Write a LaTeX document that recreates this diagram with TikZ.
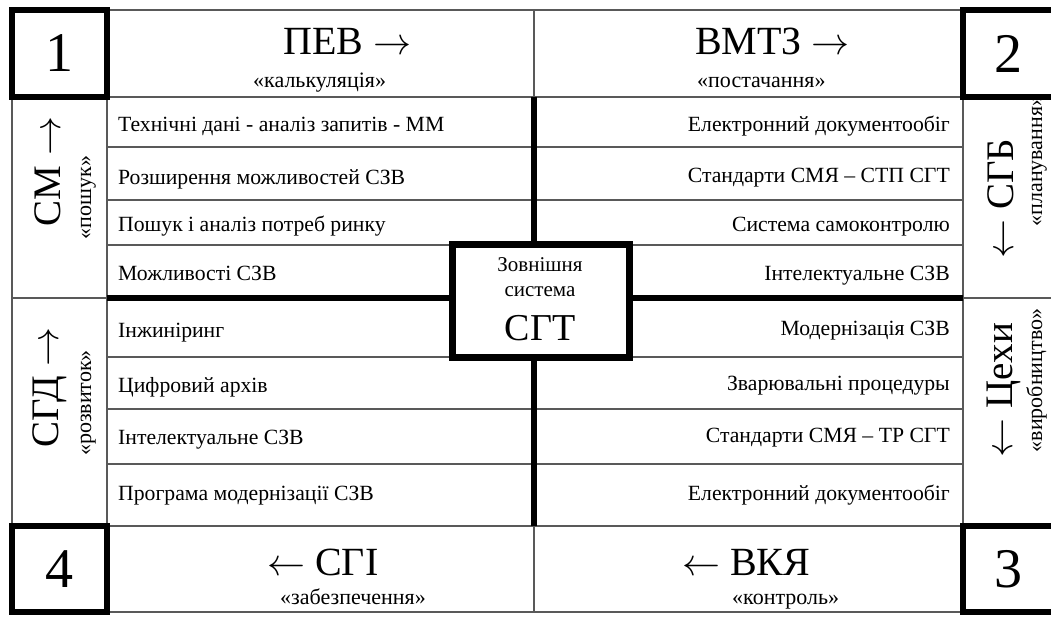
\documentclass[tikz,border=0pt]{standalone}
\usepackage{graphicx}
\usepackage{fontspec}
\setmainfont{Liberation Serif}
\newcommand{\ra}[1][3.8]{{\fontsize{10}{12}\selectfont\scalebox{#1}{$\rightarrow$}}}
\newcommand{\la}[1][3.8]{{\fontsize{10}{12}\selectfont\scalebox{#1}{$\leftarrow$}}}
\begin{document}
\begin{tikzpicture}[x=1pt,y=-1pt,
  thinl/.style={draw=black!65,line width=1.6pt},
  thickl/.style={draw=black,line width=6pt},
  numbox/.style={draw=black,line width=6pt,fill=white,inner sep=0pt,font=\fontsize{56}{60}\selectfont},
  centerbox/.style={draw=black,line width=7pt,fill=white,inner sep=0pt},
  item/.style={font=\fontsize{21.7}{24}\selectfont,inner sep=0pt},
  head/.style={font=\fontsize{40}{42}\selectfont,inner sep=0pt,anchor=base west},
  rhead/.style={font=\fontsize{39}{42}\selectfont,inner sep=0pt,anchor=base,rotate=90},
  subt/.style={font=\fontsize{22}{24}\selectfont,inner sep=0pt,anchor=base west},
  rsubt/.style={font=\fontsize{22}{24}\selectfont,inner sep=0pt,anchor=base,rotate=90},
  ctext/.style={font=\fontsize{21}{23}\selectfont,inner sep=0pt,anchor=base},
]
\useasboundingbox (0,0) rectangle (1051,617);
\begin{scope}
\clip (0,0) rectangle (1051,617);
% thin grid
\draw[thinl] (107,10) -- (963,10);
\draw[thinl] (107,612) -- (963,612);
\draw[thinl] (12,97) -- (12,526);
\draw[thinl] (1054,97) -- (1054,526);
\draw[thinl] (107,97) -- (107,526);
\draw[thinl] (963,97) -- (963,526);
\draw[thinl] (107,97) -- (963,97);
\draw[thinl] (107,526) -- (963,526);
\draw[thinl] (534,10) -- (534,97);
\draw[thinl] (534,526) -- (534,612);
\foreach \yy in {147,200,409,464} \draw[thinl] (107,\yy) -- (963,\yy);
\foreach \yy in {245,357} {\draw[thinl] (107,\yy) -- (452,\yy); \draw[thinl] (629,\yy) -- (963,\yy);}
\draw[thinl] (12,298) -- (107,298);
\draw[thinl] (963,298) -- (1054,298);
% center box and thick lines
\node[centerbox,minimum width=177pt,minimum height=112pt] (c) at (540.5,301) {};
\coordinate (ttop) at (534,97);
\coordinate (tbot) at (534,526);
\coordinate (tl) at (107,298);
\coordinate (tr) at (963,298);
\draw[thickl] (ttop) -- (ttop |- c.north);
\draw[thickl] (tbot) -- (tbot |- c.south);
\draw[thickl] (tl) -- (tl -| c.west);
\draw[thickl] (tr) -- (tr -| c.east);
\node[centerbox,minimum width=177pt,minimum height=112pt] at (c) {};
% corner boxes
\node[numbox,minimum width=95pt,minimum height=87pt] (b1) at (59.5,53.5) {1};
\node[numbox,minimum width=91pt,minimum height=87pt] (b2) at (1008.5,53.5) {2};
\node[numbox,minimum width=91pt,minimum height=86pt] (b3) at (1008.5,569) {3};
\node[numbox,minimum width=95pt,minimum height=86pt] (b4) at (59.5,569) {4};
\end{scope}
\node[ctext] (c1) at (540,272) {Зовнішня};
\node[ctext] (c2) at (540,297) {система};
\node[ctext,font=\fontsize{38}{40}\selectfont] (c3) at (540,340) {СГТ};
% headers
\node[head] (h1) at (283,55) {ПЕВ \ra};
\node[subt] (s1) at (253,88) {«калькуляція»};
\node[head] (h2) at (695,55) {ВМТЗ \ra};
\node[subt] (s2) at (697,88) {«постачання»};
\node[head] (h4) at (267,575) {\la\ СГІ};
\node[subt] (s4) at (280,604) {«забезпечення»};
\node[head] (h3) at (682,575) {\la\ ВКЯ};
\node[subt] (s3) at (732,604) {«контроль»};
% side labels
\node[rhead] (l1) at (60,171.5) {СМ \ra[3.9]};
\node[rsubt] (ls1) at (91,197.5) {«пошук»};
\node[rhead] (l2) at (58,387.5) {СГД \ra[3.9]};
\node[rsubt] (ls2) at (91,403) {«розвиток»};
\node[rhead] (r1) at (1013,198.5) {\la[3.9]\ СГБ};
\node[rsubt] (rs1) at (1042,161) {«планування»};
\node[rhead] (r2) at (1012,390) {\la[3.9]\ Цехи};
\node[rsubt] (rs2) at (1042,380.5) {«виробництво»};
% left items
\node[item,anchor=base west] (a1) at (118,132) {Технічні дані - аналіз запитів - ММ};
\node[item,anchor=base west] (a2) at (118,185) {Розширення можливостей СЗВ};
\node[item,anchor=base west] (a3) at (118,232) {Пошук і аналіз потреб ринку};
\node[item,anchor=base west] (a4) at (118,280) {Можливості СЗВ};
\node[item,anchor=base west] (a5) at (118,337) {Інжиніринг};
\node[item,anchor=base west] (a6) at (118,392) {Цифровий архів};
\node[item,anchor=base west] (a7) at (118,444) {Інтелектуальне СЗВ};
\node[item,anchor=base west] (a8) at (118,500) {Програма модернізації СЗВ};
% right items
\node[item,anchor=base east] (r1a) at (950,132) {Електронний документообіг};
\node[item,anchor=base east] (r2a) at (950,183) {Стандарти СМЯ – СТП СГТ};
\node[item,anchor=base east] (r3a) at (950,232) {Система самоконтролю};
\node[item,anchor=base east] (r4a) at (950,280) {Інтелектуальне СЗВ};
\node[item,anchor=base east] (r5a) at (950,335) {Модернізація СЗВ};
\node[item,anchor=base east] (r6a) at (950,390) {Зварювальні процедуры};
\node[item,anchor=base east] (r7a) at (950,442) {Стандарти СМЯ – ТР СГТ};
\node[item,anchor=base east] (r8a) at (950,500) {Електронний документообіг};
\end{tikzpicture}
\end{document}
